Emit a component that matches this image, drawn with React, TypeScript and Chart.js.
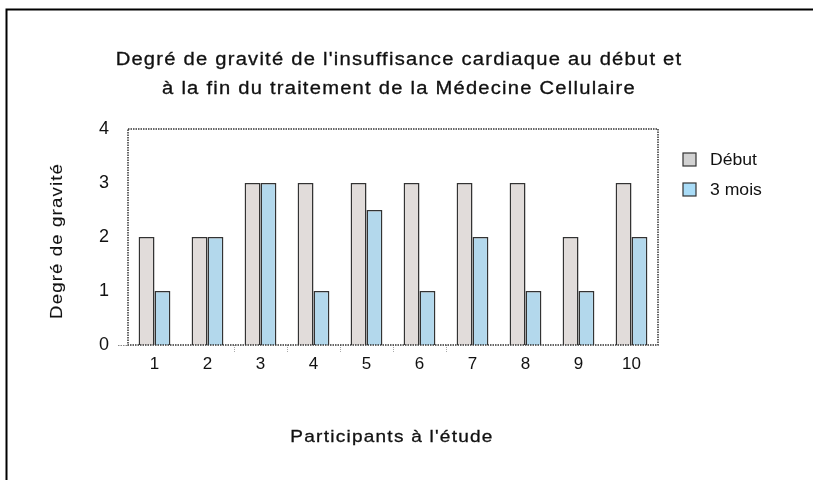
import React, { useEffect, useRef } from "react";
import { Chart, registerables } from "chart.js";

Chart.register(...registerables);

const categories = ["1", "2", "3", "4", "5", "6", "7", "8", "9", "10"];
const debut = [2, 2, 3, 3, 3, 3, 3, 3, 2, 3];
const troisMois = [1, 2, 3, 1, 2.5, 1, 2, 1, 1, 2];
const seriesNames = ["Début", "3 mois"];
const titleLines = [
  "Degré de gravité de l'insuffisance cardiaque au début et",
  "à la fin du traitement de la Médecine Cellulaire",
];
const xTitle = "Participants à l'étude";
const yTitle = "Degré de gravité";

const FONT = "Arial, 'Liberation Sans', sans-serif";
const C_DEBUT = "#e1dcda";
const C_MOIS = "#b3d8ec";

function drawText(
  ctx: any,
  text: string,
  x: number,
  y: number,
  size: number,
  sx: number,
  spacing: number,
  align: string,
  rot = 0,
  stroke = 0.3
) {
  ctx.save();
  ctx.translate(x, y);
  if (rot) ctx.rotate(rot);
  ctx.scale(sx, 1);
  ctx.font = `${size}px ${FONT}`;
  if ("letterSpacing" in ctx) ctx.letterSpacing = `${spacing}px`;
  ctx.textAlign = align;
  ctx.textBaseline = "middle";
  ctx.fillStyle = "#111";
  ctx.strokeStyle = "#111";
  ctx.fillText(text, 0, 0);
  if (stroke > 0) {
    ctx.lineWidth = stroke;
    ctx.strokeText(text, 0, 0);
  }
  ctx.restore();
}

const decorPlugin = {
  id: "decor",
  beforeDraw(chart: any) {
    const ctx = chart.ctx;
    ctx.save();
    ctx.fillStyle = "#fff";
    ctx.fillRect(0, 0, chart.width, chart.height);
    ctx.strokeStyle = "#000";
    ctx.lineWidth = 2;
    ctx.beginPath();
    ctx.moveTo(6.5, chart.height);
    ctx.lineTo(6.5, 9.5);
    ctx.lineTo(chart.width, 9.5);
    ctx.stroke();
    ctx.restore();
  },
  afterDatasetsDraw(chart: any) {
    const ctx = chart.ctx;
    const a = chart.chartArea;
    ctx.save();
    ctx.strokeStyle = "#333";
    ctx.lineWidth = 1.5;
    ctx.setLineDash([1.5, 1]);
    ctx.strokeRect(a.left, a.top, a.right - a.left, a.bottom - a.top);
    ctx.strokeStyle = "#888";
    ctx.lineWidth = 1;
    ctx.beginPath();
    ctx.moveTo(a.left - 10, a.bottom + 0.5);
    ctx.lineTo(a.left, a.bottom + 0.5);
    ctx.stroke();
    ctx.setLineDash([]);
    ctx.restore();

    drawText(ctx, titleLines[0], 399, 60, 18, 1.12, 1.1, "center");
    drawText(ctx, titleLines[1], 399, 89, 18, 1.12, 1.1, "center");
    drawText(ctx, xTitle, 392, 437, 17, 1.12, 1.1, "center");
    drawText(ctx, yTitle, 57, 241, 17, 1.1, 1.0, "center", -Math.PI / 2, 0.1);

    seriesNames.forEach((n, i) => {
      const y = 160 + i * 30;
      ctx.save();
      ctx.fillStyle = i === 0 ? "#d2d2d2" : "#a9dcf7";
      ctx.fillRect(683, y - 7, 13, 13);
      ctx.strokeStyle = "#333";
      ctx.lineWidth = 1.2;
      ctx.strokeRect(683, y - 7, 13, 13);
      ctx.restore();
      drawText(ctx, n, 710, y + 1, 16, 1.1, 0, "left", 0, 0);
    });
  },
};

export default function App() {
  const ref = useRef<HTMLCanvasElement | null>(null);
  useEffect(() => {
    document.body.style.margin = "0";
    const chart = new Chart(ref.current as HTMLCanvasElement, {
      type: "bar",
      data: {
        labels: categories,
        datasets: [
          {
            label: seriesNames[0],
            data: debut,
            backgroundColor: C_DEBUT,
            borderColor: "#333",
            borderWidth: 1.5,
            categoryPercentage: 0.6,
            barPercentage: 1,
          },
          {
            label: seriesNames[1],
            data: troisMois,
            backgroundColor: C_MOIS,
            borderColor: "#333",
            borderWidth: 1.5,
            categoryPercentage: 0.6,
            barPercentage: 1,
          },
        ],
      },
      options: {
        responsive: false,
        animation: false,
        layout: { padding: { left: 0, top: 129, right: 155, bottom: 0 } },
        plugins: {
          legend: { display: false },
          title: { display: false },
          tooltip: { enabled: false },
        },
        scales: {
          x: {
            border: { display: false },
            grid: {
              display: true,
              drawOnChartArea: false,
              drawTicks: true,
              tickLength: 7,
              color: (c: any) => (c.index >= 2 && c.index <= 6 ? "#aaa" : "rgba(0,0,0,0)"),
              tickBorderDash: [1, 1],
              offset: true,
            },
            ticks: {
              color: "#111",
              font: { family: FONT, size: 17 },
              padding: 2,
              maxRotation: 0,
            },
            afterFit: (s: any) => {
              s.height = 135;
            },
          },
          y: {
            min: 0,
            max: 4,
            border: { display: false },
            grid: { display: false, drawTicks: false },
            ticks: {
              stepSize: 1,
              color: "#111",
              font: { family: FONT, size: 18 },
              padding: 19,
            },
            afterFit: (s: any) => {
              s.width = 128;
            },
          },
        },
      },
      plugins: [decorPlugin],
    });
    return () => chart.destroy();
  }, []);
  return (
    <div style={{ position: "absolute", left: 0, top: 0, width: 813, height: 480 }}>
      <canvas ref={ref} width={813} height={480} style={{ display: "block" }} />
    </div>
  );
}
